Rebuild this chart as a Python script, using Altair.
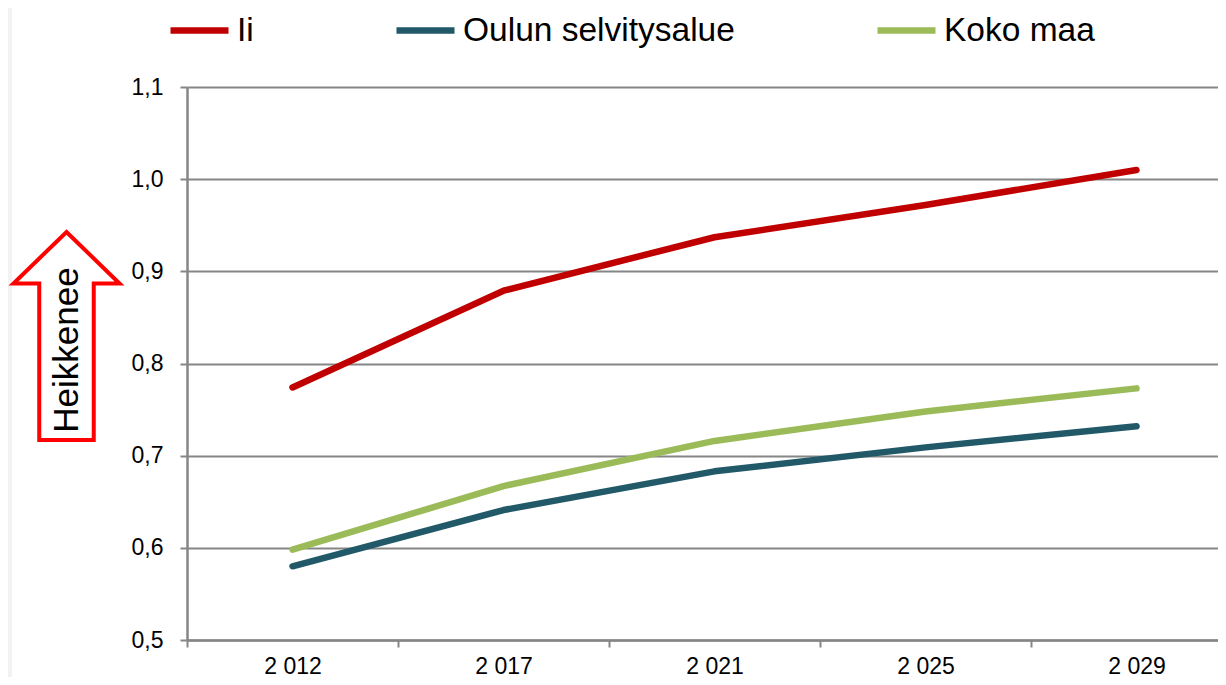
import altair as alt
import pandas as pd

years = ["2 012", "2 017", "2 021", "2 025", "2 029"]
series_names = ["Ii", "Oulun selvitysalue", "Koko maa"]
ii = [0.774, 0.879, 0.937, 0.972, 1.010]
oulu = [0.580, 0.641, 0.683, 0.709, 0.732]
koko = [0.598, 0.667, 0.716, 0.748, 0.773]
colors = ["#C00000", "#215968", "#9BBB59"]
y_ticks = [0.5, 0.6, 0.7, 0.8, 0.9, 1.0, 1.1]
arrow_label = "Heikkenee"

rows = []
for name, vals in zip(series_names, [ii, oulu, koko]):
    for yr, v in zip(years, vals):
        rows.append({"vuosi": yr, "sarja": name, "arvo": v})
df = pd.DataFrame(rows)

FONT = "Liberation Sans"
W, H = 1031, 553
BAND_RANGE = 1055

lines = alt.Chart(df).mark_line(strokeWidth=6.5, strokeCap="round", strokeJoin="round").encode(
    x=alt.X("vuosi:N", sort=years, bandPosition=0.5, title=None,
            scale=alt.Scale(type="band", paddingInner=0, paddingOuter=0, range=[0, BAND_RANGE]),
            axis=alt.Axis(tickBand="extent", labelAngle=0, labelFontSize=23, labelFont=FONT,
                          labelColor="black", tickSize=7, tickWidth=2, tickColor="#868686",
                          domainColor="#868686", domainWidth=2.5, labelPadding=8, grid=False)),
    y=alt.Y("arvo:Q", title=None,
            scale=alt.Scale(domain=[0.5, 1.1], nice=False, zero=False),
            axis=alt.Axis(values=y_ticks, labelExpr="replace(format(datum.value, '.1f'), '.', ',')",
                          labelFontSize=23, labelFont=FONT, labelColor="black", tickSize=7,
                          tickWidth=2, tickColor="#868686", domainColor="#868686", domainWidth=2.5,
                          gridColor="#868686", gridWidth=2, labelPadding=17)),
    color=alt.Color("sarja:N", sort=series_names,
                    scale=alt.Scale(domain=series_names, range=colors),
                    legend=alt.Legend(title=None, orient="none", direction="horizontal", columns=3,
                                      legendX=-20, legendY=-89, symbolType="stroke",
                                      symbolSize=3364, symbolStrokeWidth=6.5, labelFontSize=33.5,
                                      labelFont=FONT, labelColor="black", labelOffset=5,
                                      columnPadding=129, padding=0, labelLimit=0)),
)

arrow_df = pd.DataFrame({"label": [arrow_label]})
arrow_path = "M0,-1 L0.51,-0.505 L0.262,-0.505 L0.262,1 L-0.262,1 L-0.262,-0.505 L-0.51,-0.505 Z"
arrow = alt.Chart(arrow_df).mark_point(
    shape=arrow_path, size=43264, filled=False, stroke="#FF0000", strokeWidth=4, opacity=1,
    fill="white", fillOpacity=1
).encode(x=alt.value(-120.5), y=alt.value(249))

arrow_text = alt.Chart(arrow_df).mark_text(
    angle=270, fontSize=35, font=FONT, color="black", align="center", baseline="middle"
).encode(x=alt.value(-120.5), y=alt.value(263), text="label:N")

strip = alt.Chart(arrow_df).mark_rect(color="#F2F2F2").encode(
    x=alt.value(-179), x2=alt.value(-175), y=alt.value(-79), y2=alt.value(H + 37)
)

chart = alt.layer(strip, lines, arrow, arrow_text).properties(
    width=W, height=H,
    autosize=alt.AutoSizeParams(type="none"),
    padding={"left": 179, "top": 79, "right": 0, "bottom": 37},
).configure_view(stroke=None)

chart.save("out.html", embed_options={"renderer": "svg", "actions": False})
